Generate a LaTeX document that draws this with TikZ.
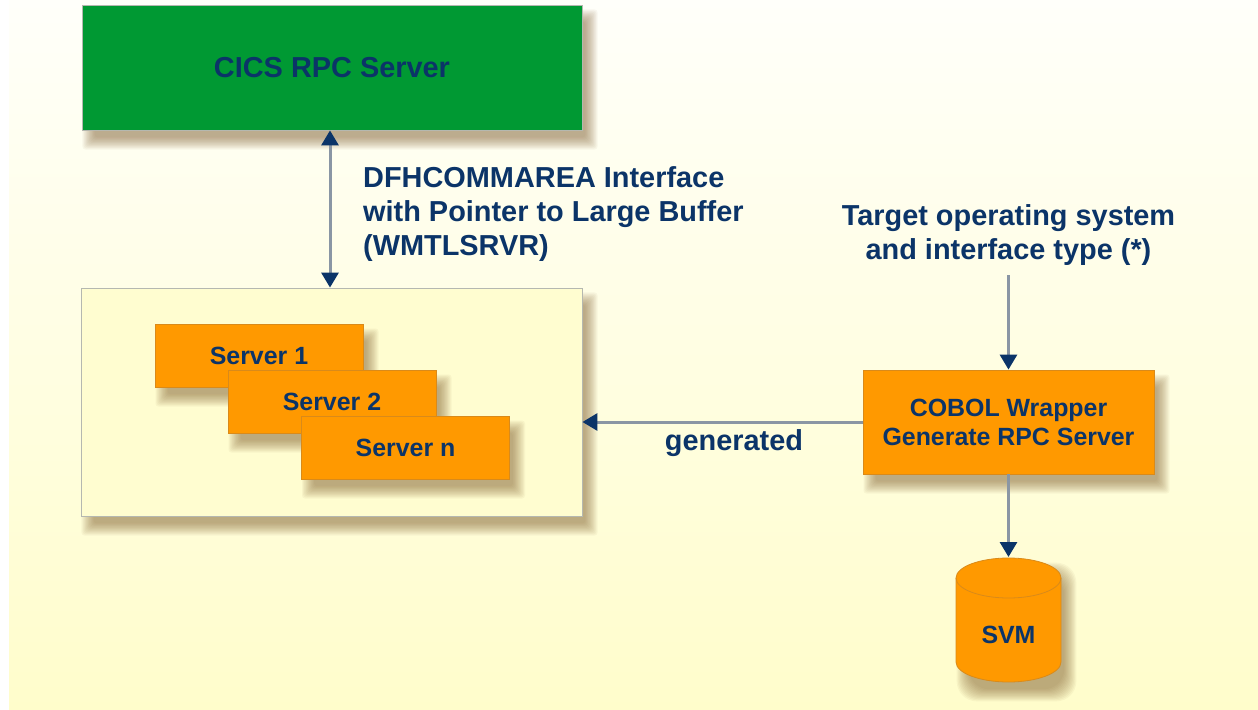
\documentclass[tikz,border=0pt]{standalone}
\usepackage{fontspec}
\setmainfont{Liberation Sans}
\usetikzlibrary{arrows.meta,calc}
\definecolor{navy}{HTML}{0B3468}
\definecolor{cicsgreen}{HTML}{009933}
\definecolor{boxorange}{HTML}{FF9900}
\definecolor{orangeedge}{HTML}{D98A1A}
\definecolor{contfill}{HTML}{FFFDD0}
\definecolor{contedge}{HTML}{B5B8B0}
\definecolor{linegray}{HTML}{8A96A4}
\definecolor{bgtop}{HTML}{FFFFFA}
\definecolor{bgbot}{HTML}{FFFDCB}
\definecolor{shadowc}{HTML}{7A5525}
\pgfdeclarelayer{bg}
\pgfdeclarelayer{shadowlayer}
\pgfdeclarelayer{contlayer}
\pgfdeclarelayer{innershadow}
\pgfsetlayers{bg,shadowlayer,contlayer,innershadow,main}
% #1 corner rounding, #2 layer, #3 node
\newcommand{\softshadow}[3][3bp]{%
  \begin{pgfonlayer}{#2}
  \foreach \k in {0,...,11} {
    \pgfmathsetmacro{\r}{\k*1.1-5}
    \fill[shadowc, opacity=0.05, rounded corners=#1]
      ($(#3.north west)+(8-\r,12-\r)$) rectangle ($(#3.south east)+(8+\r,12+\r)$);
  }
  \end{pgfonlayer}}
\tikzset{
  bigfont/.style={font=\bfseries\fontsize{29}{34}\selectfont},
  smallfont/.style={font=\bfseries\fontsize{25}{29}\selectfont},
  orangebox/.style={draw=orangeedge, line width=0.8bp, fill=boxorange, text=navy, smallfont},
  serverbox/.style={orangebox, minimum width=208bp, minimum height=63bp},
  conn/.style={draw=linegray, line width=3bp, -{Triangle[length=15bp, width=17bp, color=navy]}},
  biconn/.style={draw=linegray, line width=3bp, {Triangle[length=15bp, width=17bp, color=navy]}-{Triangle[length=15bp, width=17bp, color=navy]}},
  lbl/.style={text=navy, bigfont, inner sep=0pt}
}
\begin{document}
\begin{tikzpicture}[x=1bp,y=-1bp]
\useasboundingbox (0,0) rectangle (1258,710);
\begin{pgfonlayer}{bg}
\shade[top color=bgtop, bottom color=bgbot] (9,0) rectangle (1258,709);
\end{pgfonlayer}

% CICS server
\node[draw=contedge, line width=0.8bp, fill=cicsgreen, text=navy, bigfont,
      minimum width=500bp, minimum height=125bp] (cics) at (332,67.5) {CICS RPC Server};
\softshadow{shadowlayer}{cics}

% container
\begin{pgfonlayer}{contlayer}
\node[draw=contedge, line width=0.8bp, fill=contfill,
      minimum width=501bp, minimum height=228bp] (cont) at (331.5,402) {};
\end{pgfonlayer}
\softshadow{shadowlayer}{cont}

% servers
\node[serverbox] (s1) at (259,355.5) {Server 1};
\node[serverbox] (s2) at (332,401.5) {Server 2};
\node[serverbox] (sn) at (405.5,447.5) {Server n};
\softshadow{innershadow}{s1}
\softshadow{innershadow}{s2}
\softshadow{innershadow}{sn}

% COBOL wrapper
\node[orangebox, align=center, minimum width=291bp, minimum height=104bp] (cobol) at (1008.5,422)
  {COBOL Wrapper\\Generate RPC Server};
\softshadow{shadowlayer}{cobol}

% SVM cylinder
\coordinate (svmtop) at (1008.5,557);
\node[minimum width=105bp, minimum height=124bp, inner sep=0pt] (svmbody) at (1008.5,620) {};
\softshadow[20bp]{shadowlayer}{svmbody}
\fill[boxorange] (956,578) -- (956,662) arc[start angle=180, end angle=0, x radius=52.5, y radius=20]
  -- (1061,578) arc[start angle=0, end angle=-180, x radius=52.5, y radius=20] -- cycle;
\draw[orangeedge, line width=0.8bp] (956,578) -- (956,662) arc[start angle=180, end angle=0, x radius=52.5, y radius=20]
  -- (1061,578) arc[start angle=0, end angle=-180, x radius=52.5, y radius=20] -- cycle;
\draw[orangeedge, line width=0.8bp] (956,578) arc[start angle=180, end angle=0, x radius=52.5, y radius=20];
\node[text=navy, smallfont] (svm) at (1008.5,635) {SVM};

% labels
\node[lbl, anchor=west, align=left] (dfh) at (363,214)
  {DFHCOMMAREA Interface\\with Pointer to Large Buffer\\(WMTLSRVR)};
\node[lbl, align=center] (target) at (1008.5,235)
  {Target operating system\\and interface type (*)};
\node[lbl] (gen) at (734,443) {generated};

% connectors
\draw[biconn] (cics.south -| 330,0) -- (cont.north -| 330,0);
\draw[conn] (target.south |- 0,275) -- (cobol.north);
\draw[conn] (cobol.west) -- (cobol.west -| cont.east);
\draw[conn] (cobol.south) -- (svmtop);
\end{tikzpicture}
\end{document}
